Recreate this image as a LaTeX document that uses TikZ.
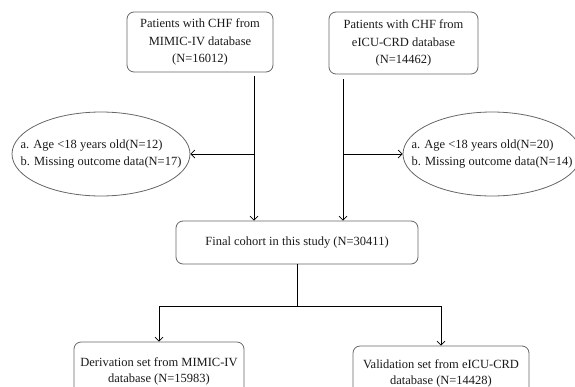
\documentclass[tikz,border=0pt]{standalone}
\usepackage{fontspec}
\setmainfont{Liberation Serif}
\usetikzlibrary{shapes.geometric,arrows.meta}

\begin{document}
\begin{tikzpicture}[x=1pt, y=-1pt,
  >={Straight Barb[length=4pt, width=8pt]},
  box/.style={rectangle, draw=black!60, line width=0.8pt, rounded corners=7pt, align=center, text=black!90, font=\fontsize{12.5}{17.5}\selectfont},
  excl/.style={ellipse, draw=black!60, line width=0.8pt, inner sep=0pt, minimum width=178, minimum height=84},
  excltext/.style={align=left, text=black!90, font=\fontsize{12.5}{17.5}\selectfont},
  flow/.style={line width=0.7pt}]
  \useasboundingbox (0, 0) rectangle (575, 386);
  \clip (0, 0) rectangle (575, 386);

  \node (mimic) [box, minimum width=146, minimum height=60] at (200, 42) {Patients with CHF from\\MIMIC-IV database\\(N=16012)};
  \node (eicu) [box, minimum width=149, minimum height=62] at (403.5, 43) {Patients with CHF from\\eICU-CRD database\\(N=14462)};

  \node (exm) [excl] at (101, 154) {};
  \node (exmt) [excltext] at (exm.center) {a. Age <18 years old(N=12)\\b. Missing outcome data(N=17)};
  \node (exe) [excl] at (492, 154) {};
  \node (exet) [excltext] at (exe.center) {a. Age <18 years old(N=20)\\b. Missing outcome data(N=14)};

  \node (final) [box, minimum width=242, minimum height=43] at (297, 242.5) {Final cohort in this study (N=30411)};

  \node (deriv) [box, minimum width=170, minimum height=58, font=\fontsize{12.5}{16}\selectfont] at (159, 371) {Derivation set from MIMIC-IV\\database (N=15983)};
  \node (valid) [box, minimum width=176, minimum height=54, font=\fontsize{12.5}{16}\selectfont] at (441, 373) {Validation set from eICU-CRD\\database (N=14428)};

  % the two source streams
  \coordinate (m1) at (254, 76);
  \coordinate (e1) at (343, 79);
  \draw[flow, ->] (m1) -- (m1 |- final.north);
  \draw[flow, ->] (e1) -- (e1 |- final.north);
  \draw[flow, ->] (m1 |- exm.east) -- (exm.east);
  \draw[flow, ->] (e1 |- exe.west) -- (exe.west);

  % split into derivation and validation
  \coordinate (split) at (297, 306);
  \draw[flow] (final.south) -- (split);
  \draw[flow, ->] (split) -| (deriv.north);
  \draw[flow, ->] (split) -| (valid.north);
\end{tikzpicture}
\end{document}
